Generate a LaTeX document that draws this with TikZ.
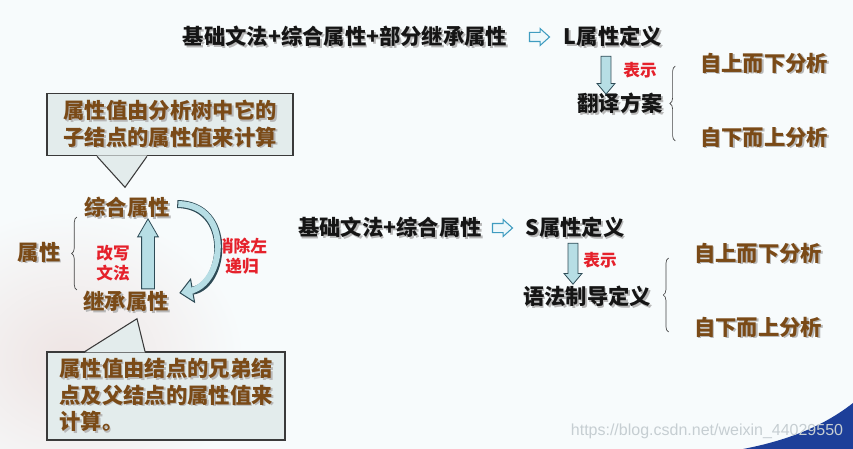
\documentclass[tikz,border=0pt]{standalone}
\usepackage{fontspec}
\setmainfont{Noto Sans CJK SC}
\newfontfamily\urlfont{Liberation Sans}
\usetikzlibrary{arrows.meta, positioning, calc, shapes.arrows, decorations.pathreplacing}
\definecolor{bgcol}{HTML}{F7FBFC}
\definecolor{photo}{HTML}{EEE4E3}
\definecolor{ink}{HTML}{151515}
\definecolor{textbrown}{HTML}{7A4A17}
\definecolor{hl}{HTML}{E5212B}
\definecolor{arrowfill}{HTML}{B7DEE5}
\definecolor{arrowedge}{HTML}{2E4B56}
\definecolor{hollowedge}{HTML}{3F9CC0}
\definecolor{hollowfill}{HTML}{EEF8FB}
\definecolor{notefill}{HTML}{E3ECEC}
\definecolor{noteedge}{HTML}{3A3A3A}
\definecolor{swoosh}{HTML}{1D3F99}
\definecolor{wmgray}{HTML}{C6CED2}
\newcommand{\shd}[1]{\makebox[0pt][l]{\hspace{1.3pt}\raisebox{-1.3pt}{\textcolor{black!28}{#1}}}#1}

\begin{document}
\begin{tikzpicture}[x=0.75pt, y=-0.75pt,
    maintext/.style={font=\fontsize{16}{19}\selectfont\bfseries, text=ink, inner sep=1pt},
    branchtext/.style={font=\fontsize{16}{19}\selectfont\bfseries, text=textbrown, inner sep=1pt},
    redtext/.style={font=\fontsize{12.5}{15}\selectfont\bfseries, text=hl, align=center, inner sep=1pt},
    notebox/.style={draw=noteedge, fill=notefill, line width=0.8pt, text=textbrown,
      font=\fontsize{16}{20}\selectfont\bfseries, inner sep=0pt},
    blockarrow/.style={single arrow, draw=arrowedge, fill=arrowfill, line width=0.6pt, inner xsep=0pt, anchor=tail},
    hollow/.style={single arrow, draw=hollowedge, fill=hollowfill, line width=0.8pt, inner xsep=0pt,
      inner ysep=3pt, minimum height=15pt, single arrow head extend=3pt, single arrow tip angle=84},
    bracestyle/.style={draw=ink!80, line width=0.5pt, decorate, decoration={brace, amplitude=4pt}},
    bandedge/.style={draw=arrowedge, line width=6pt},
    bandfill/.style={draw=arrowfill, line width=4.5pt},
    wm/.style={font=\urlfont\fontsize{12}{14}\selectfont, text=wmgray, inner sep=0pt}]

    % background
    \useasboundingbox (0,0) rectangle (853,449);
    \fill[bgcol] (0,0) rectangle (853,449);
    \shade[inner color=photo, outer color=bgcol] (70,360) ellipse [x radius=175, y radius=150];
    \fill[swoosh] (743,449) .. controls (790,440) and (825,425) .. (853,403) -- (853,449) -- cycle;

    % L-attributed line
    \node[maintext] (lgram) at (345,37) {\shd{基础文法+综合属性+部分继承属性}};
    \node[hollow] (lto) at (537,37) {};
    \node[maintext] (ldef) at (613,37) {\shd{L属性定义}};
    \node[maintext] (lscheme) at (620,104) {\shd{翻译方案}};
    \node[blockarrow, rotate=-90, minimum height=28.5pt, inner ysep=3.4pt,
      single arrow head extend=3pt, single arrow tip angle=80] (ldown)
      at ($(ldef.south)+(-7,6)$) {};
    \node[redtext] (lshow) at (640,70) {表示};
    \node[branchtext] (ltop) at (764,64) {\shd{自上而下分析}};
    \node[branchtext] (lbot) at (764,138) {\shd{自下而上分析}};
    \draw[bracestyle] ($(lscheme.east)+(11,37)$) -- ($(lscheme.east)+(11,-38)$);

    % S-attributed line
    \node[maintext] (sgram) at (390,228) {\shd{基础文法+综合属性}};
    \node[hollow] (sto) at (500,228) {};
    \node[maintext] (sdef) at (575,228) {\shd{S属性定义}};
    \node[maintext] (sdd) at (587,297) {\shd{语法制导定义}};
    \node[blockarrow, rotate=-90, minimum height=30.75pt, inner ysep=3.4pt,
      single arrow head extend=3pt, single arrow tip angle=80] (sdown)
      at ($(sdef.south)+(-2,2)$) {};
    \node[redtext] (sshow) at (600,260) {表示};
    \node[branchtext] (stop) at (758,254) {\shd{自上而下分析}};
    \node[branchtext] (sbot) at (758,328) {\shd{自下而上分析}};
    \draw[bracestyle] ($(sdd.east)+(16,35)$) -- ($(sdd.east)+(16,-39)$);

    % attributes
    \node[branchtext] (synth) at (127,208) {\shd{综合属性}};
    \node[branchtext] (inh) at (126,302) {\shd{继承属性}};
    \node[branchtext] (attr) at (39,253) {\shd{属性}};
    \draw[bracestyle] ($(attr.east)+(15,37)$) -- ($(attr.east)+(15,-36)$);
    \node[blockarrow, rotate=90, minimum height=52.5pt, inner ysep=4.5pt,
      single arrow head extend=3pt, single arrow tip angle=60] (rewup)
      at ($(inh.north)+(22,0)$) {};
    \node[redtext] (rewrite) at (113,263) {改写\\文法};
    \node[redtext] (elim) at (242,256) {消除左\\递归};

    % curved arrow: eliminate left recursion
    \coordinate (cstart) at ($(synth.east)+(6,-4)$);
    \coordinate (cend) at ($(inh.east)+(9,-9)$);
    \draw[bandedge, -{Triangle[length=10.5pt, width=19pt, line width=0.75pt, fill=arrowfill]}]
      (cstart) .. controls ($(cstart)+(56,1)$) and ($(cend)+(46,-8)$) .. (cend);
    \draw[bandfill, shorten <=0.8pt, shorten >=7pt]
      (cstart) .. controls ($(cstart)+(56,1)$) and ($(cend)+(46,-8)$) .. (cend);

    % callouts
    \node[notebox, align=center, minimum width=184.5pt, minimum height=47pt] (note1) at (170,124.5)
      {\shd{属性值由分析树中它的}\\\shd{子结点的属性值来计算}};
    \coordinate (tip1) at ($(synth.north)+(-2,-8)$);
    \fill[notefill] ($(note1.south)+(-73,-1)$) -- (tip1) -- ($(note1.south)+(-23,-1)$) -- cycle;
    \draw[noteedge, line width=0.8pt] ($(note1.south)+(-73,0)$) -- (tip1) -- ($(note1.south)+(-23,0)$);

    \node[notebox, align=left, minimum width=178.5pt, minimum height=66pt] (note2) at (166,396)
      {\shd{属性值由结点的兄弟结}\\\shd{点及父结点的属性值来}\\\shd{计算。}};
    \coordinate (tip2) at ($(inh.south)+(11,4)$);
    \fill[notefill] ($(note2.north)+(-81,1)$) -- (tip2) -- ($(note2.north)+(-21,1)$) -- cycle;
    \draw[noteedge, line width=0.8pt] ($(note2.north)+(-81,0)$) -- (tip2) -- ($(note2.north)+(-21,0)$);

    \node[wm] (wmark) at (707,431) {https://blog.csdn.net/weixin\_44029550};
\end{tikzpicture}
\end{document}
